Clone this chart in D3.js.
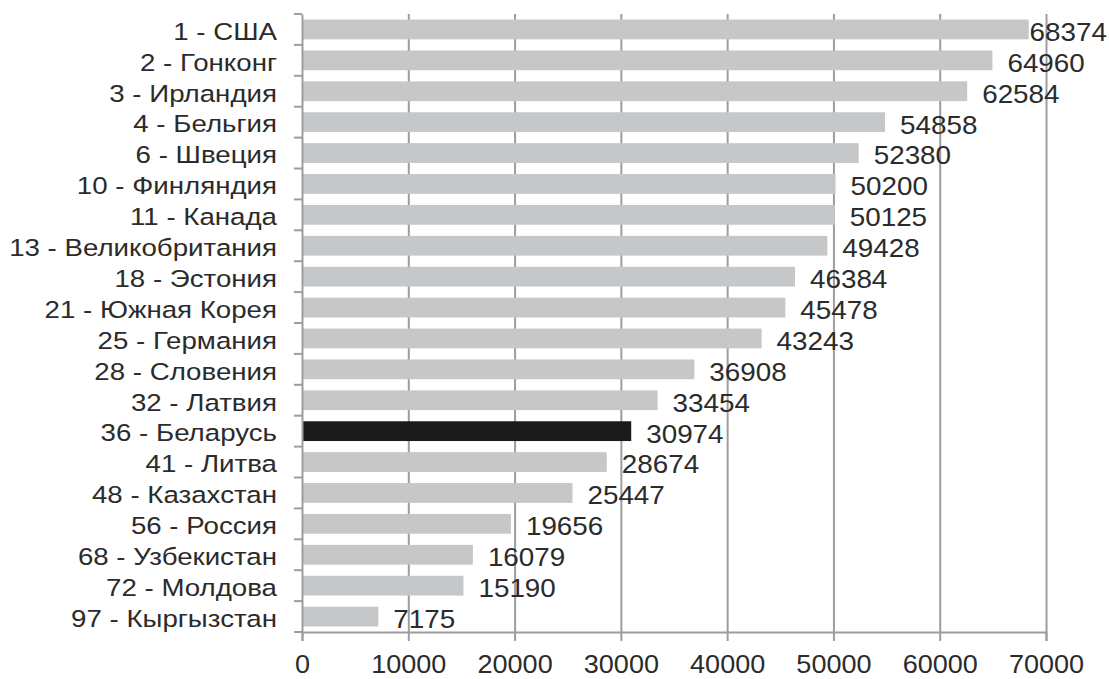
<!DOCTYPE html>
<html>
<head>
<meta charset="utf-8">
<script src="https://cdn.jsdelivr.net/npm/d3@7"></script>
<style>
	body { margin: 0; background: #fff; }
	text { font-family: "Liberation Sans", Arial, sans-serif; fill: #2b2b2b; }
</style>
</head>
<body>
<div id="chart"></div>
<script>
(function () {

	'use strict';

	// data
	let countries = ['1 - США', '2 - Гонконг', '3 - Ирландия', '4 - Бельгия', '6 - Швеция',
		'10 - Финляндия', '11 - Канада', '13 - Великобритания', '18 - Эстония', '21 - Южная Корея',
		'25 - Германия', '28 - Словения', '32 - Латвия', '36 - Беларусь', '41 - Литва',
		'48 - Казахстан', '56 - Россия', '68 - Узбекистан', '72 - Молдова', '97 - Кыргызстан'];
	let values = [68374, 64960, 62584, 54858, 52380, 50200, 50125, 49428, 46384, 45478,
		43243, 36908, 33454, 30974, 28674, 25447, 19656, 16079, 15190, 7175];
	let highlight = '36 - Беларусь';
	let xTicks = [0, 10000, 20000, 30000, 40000, 50000, 60000, 70000];

	// layout
	let svgWidth = 1109, svgHeight = 679;
	let margin = {top: 14, right: 63, bottom: 47, left: 302};
	let width = svgWidth - margin.left - margin.right;
	let height = svgHeight - margin.top - margin.bottom;
	let axisColor = '#9d9d9f';
	// the source picture is a little stretched sideways
	let catStretch = 1.13, valStretch = 1.05, tickStretch = 1.04;

	let svg = d3.select('#chart').append('svg')
		.attr('width', svgWidth)
		.attr('height', svgHeight)
		.append('g')
		.attr('transform', 'translate(' + margin.left + ',' + margin.top + ')');

	let x = d3.scaleLinear().domain([0, 70000]).range([0, width]);
	let y = d3.scaleBand().domain(countries).range([0, height]).paddingInner(0.36).paddingOuter(0.18);

	// grid lines (behind bars)
	let grid = svg.append('g')
		.attr('transform', 'translate(0,' + height + ')')
		.call(d3.axisBottom(x).tickValues(xTicks.slice(1)).tickSizeOuter(0).tickSizeInner(-height).tickFormat(''));
	grid.select('.domain').remove();
	grid.selectAll('line').attr('stroke', axisColor).attr('stroke-width', 2);

	// bars
	svg.selectAll('rect.bar')
		.data(countries)
		.enter().append('rect')
		.attr('class', 'bar')
		.attr('x', x(0))
		.attr('y', function (d) { return y(d); })
		.attr('width', function (d, i) { return x(values[i]) - x(0); })
		.attr('height', y.bandwidth())
		.attr('fill', function (d) { return d === highlight ? '#1b1b1b' : '#c6c7c9'; });

	// x axis
	let xAxis = svg.append('g')
		.attr('transform', 'translate(0,' + height + ')')
		.call(d3.axisBottom(x).tickValues(xTicks).tickSize(9).tickPadding(14).tickFormat(d3.format('d')));
	xAxis.select('.domain').attr('stroke', axisColor).attr('stroke-width', 2);
	xAxis.selectAll('line').attr('stroke', axisColor).attr('stroke-width', 2);
	xAxis.selectAll('text')
		.attr('font-size', 26)
		.attr('fill', '#2b2b2b')
		.attr('transform', 'scale(' + tickStretch + ',1)')
		.style('font-family', '"Liberation Sans", Arial, sans-serif');

	// y axis
	let yAxis = svg.append('g')
		.call(d3.axisLeft(y).tickSize(0).tickPadding(25));
	yAxis.select('.domain').attr('stroke', axisColor).attr('stroke-width', 2);
	yAxis.selectAll('text')
		.attr('font-size', 24.5)
		.attr('dy', '0.42em')
		.attr('x', 0)
		.attr('transform', 'translate(-25,0) scale(' + catStretch + ',1)')
		.attr('fill', '#2b2b2b')
		.style('font-family', '"Liberation Sans", Arial, sans-serif');

	// category boundary ticks
	let bounds = d3.range(countries.length + 1).map(function (i) { return i * height / countries.length; });
	svg.append('g').selectAll('line')
		.data(bounds)
		.enter().append('line')
		.attr('x1', -8).attr('x2', 0)
		.attr('y1', function (d) { return d; })
		.attr('y2', function (d) { return d; })
		.attr('stroke', axisColor)
		.attr('stroke-width', 2);

	// value labels
	svg.selectAll('text.value')
		.data(countries)
		.enter().append('text')
		.attr('class', 'value')
		.attr('font-size', 26.5)
		.attr('dy', '0.43em')
		.text(function (d, i) { return values[i]; })
		.attr('transform', function (d, i) {
			let w = this.getComputedTextLength() * valStretch;
			let px = Math.min(x(values[i]) + 15, svgWidth - margin.left - 2 - w);
			let py = y(d) + y.bandwidth() / 2;
			return 'translate(' + px + ',' + py + ') scale(' + valStretch + ',1)';
		});

})();
</script>
</body>
</html>
